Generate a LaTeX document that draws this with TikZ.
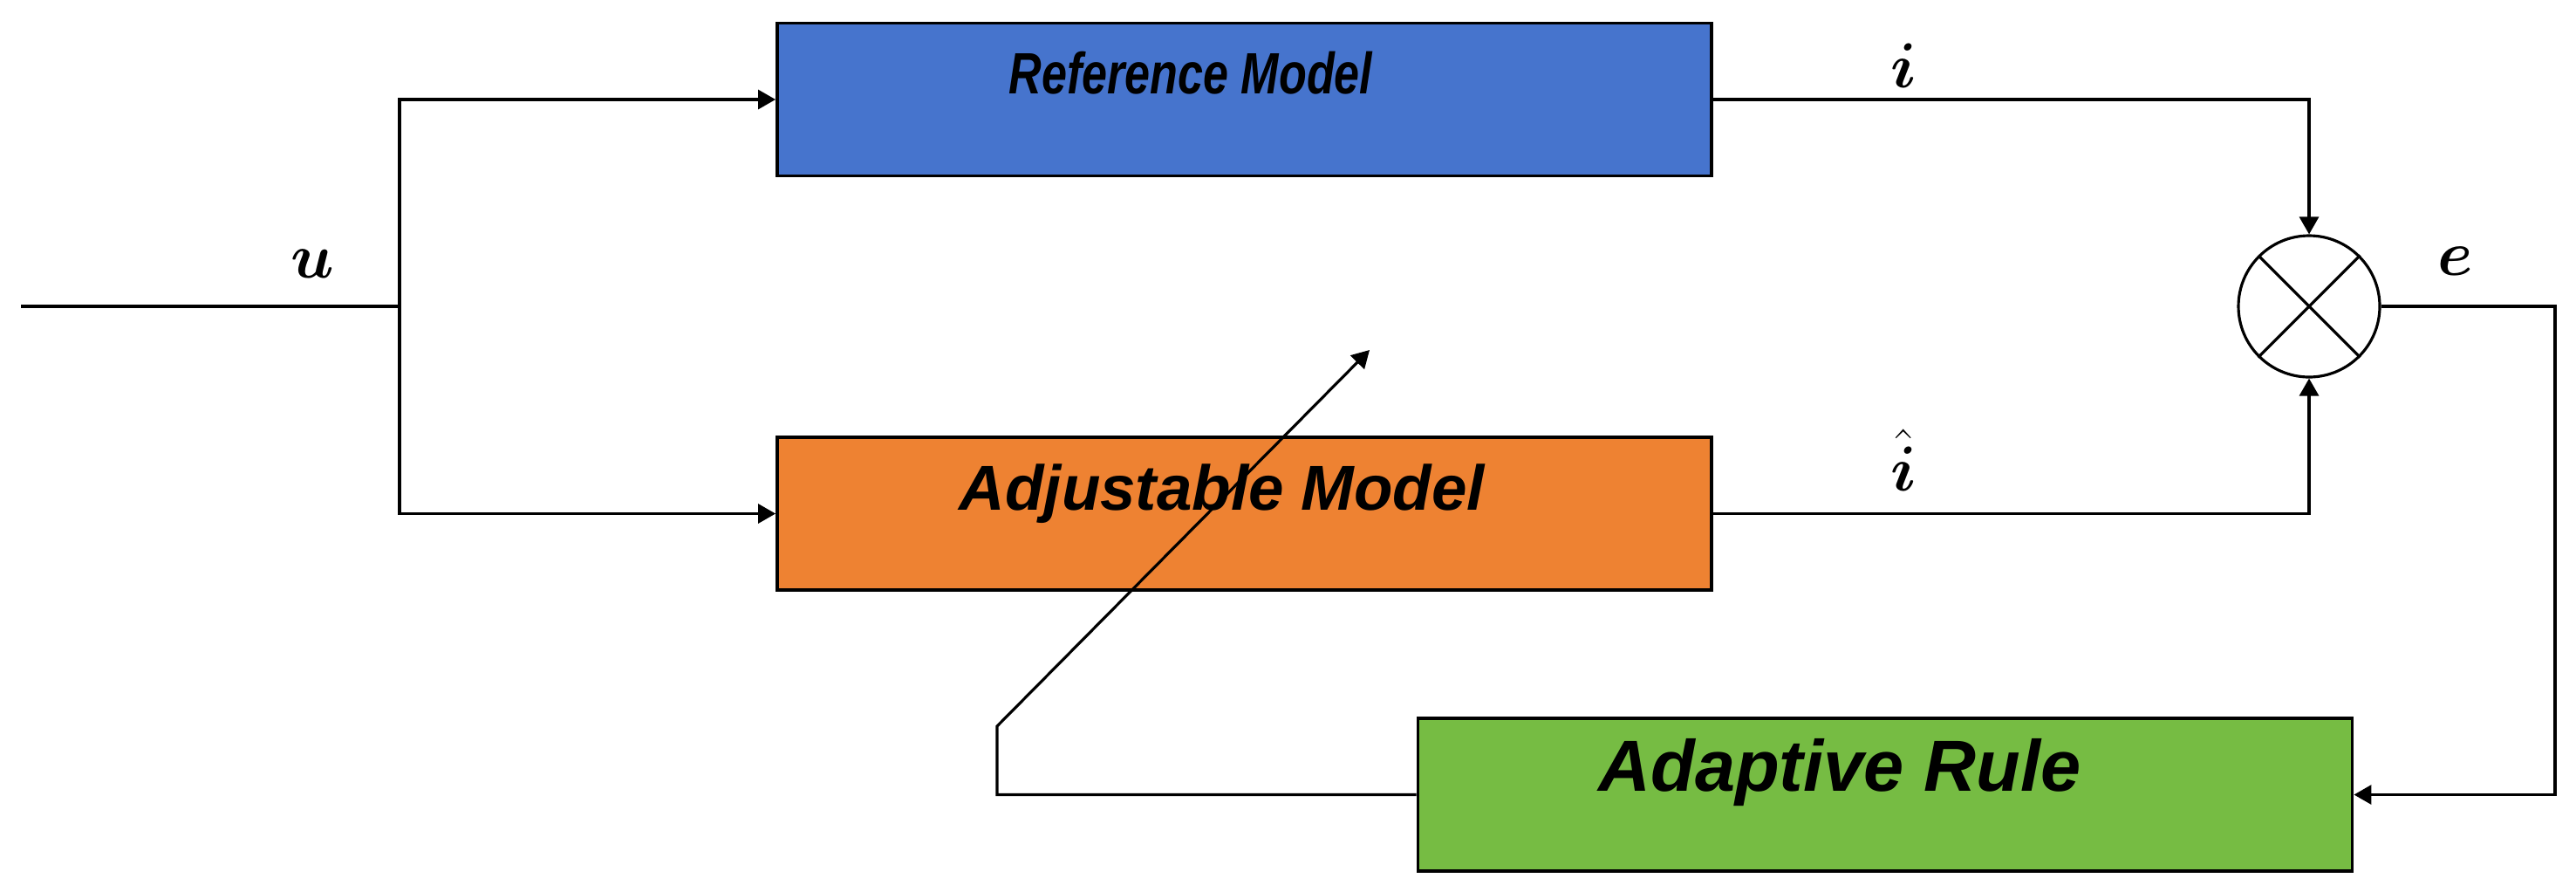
\documentclass[tikz,border=0pt]{standalone}
\usepackage{fontspec}
\usepackage{amsmath}
\usepackage{bm}
\setsansfont{Liberation Sans}
\newfontfamily\narrowsans[FakeStretch=0.78]{Liberation Sans}
\usetikzlibrary{arrows.meta}

\definecolor{refblue}{HTML}{4674CD}
\definecolor{adjorange}{HTML}{EE8232}
\definecolor{rulegreen}{HTML}{76BC43}

\begin{document}
\begin{tikzpicture}[
		every node/.style={font=\sffamily},
		block/.style={draw, line width=1.1pt, minimum width=10.71cm, minimum height=1.75cm, inner sep=0pt},
		blocktext/.style={anchor=base, inner sep=0pt},
		signal/.style={anchor=base, font=\fontsize{20.5}{24}\selectfont, inner sep=0pt},
		wire/.style={line width=0.9pt},
		>={Triangle[length=2mm,width=2.2mm]}
		]
		\useasboundingbox (0,0) rectangle (29.53,-10.21);
		
		% Draw Blocks
		\node[block, fill=refblue] (rm) at (14.265, -1.14) {};
		\node[block, fill=adjorange] (am) at (14.265, -5.885) {};
		\node[block, fill=rulegreen] (ar) at (21.61, -9.105) {};
		\node[draw, circle, line width=0.9pt, minimum size=1.62cm, inner sep=0pt] (sum) at (26.47, -3.51) {};
		\draw[wire] (sum.north west) -- (sum.south east);
		\draw[wire] (sum.north east) -- (sum.south west);
		
		% Block Titles
		\node[blocktext, font=\narrowsans\bfseries\itshape\fontsize{19}{22}\selectfont] (rmtext) at (13.65, -1.07) {Reference Model};
		\node[blocktext, font=\sffamily\bfseries\itshape\fontsize{20.7}{24}\selectfont] (amtext) at (14.01, -5.84) {Adjustable Model};
		\node[blocktext, font=\sffamily\bfseries\itshape\fontsize{23.6}{27}\selectfont] (artext) at (21.09, -9.06) {Adaptive Rule};
		
		% Input Branch
		\coordinate (in) at (0.24, -3.51);
		\coordinate (br) at (4.58, -3.51);
		\draw[wire] (in) -- (br);
		\draw[wire, ->] (br) |- (rm.west);
		\draw[wire, ->] (br) |- (am.west);
		
		% Outputs to Comparator
		\draw[wire, ->] (rm.east) -| (sum.north);
		\draw[wire, ->] (am.east) -| (sum.south);
		
		% Error Feedback
		\coordinate (eright) at (29.29, -3.51);
		\draw[wire, ->] (sum.east) -- (eright) |- (ar.east);
		\coordinate (fb) at (11.43, -8.32);
		\coordinate (tune) at (15.70, -4.01);
		\draw[wire, ->] (ar.west) -| (fb) -- (tune);
		
		% Signal Labels
		\node[signal] (ulbl) at (3.58, -3.18) {$\bm{u}$};
		\node[signal] (ilbl) at (21.82, -1.00) {$\bm{i}$};
		\node[signal] (ihatlbl) at (21.82, -5.62) {$\hat{\bm{i}}$};
		\node[signal] (elbl) at (28.15, -3.15) {$\bm{e}$};
		
	\end{tikzpicture}
\end{document}
